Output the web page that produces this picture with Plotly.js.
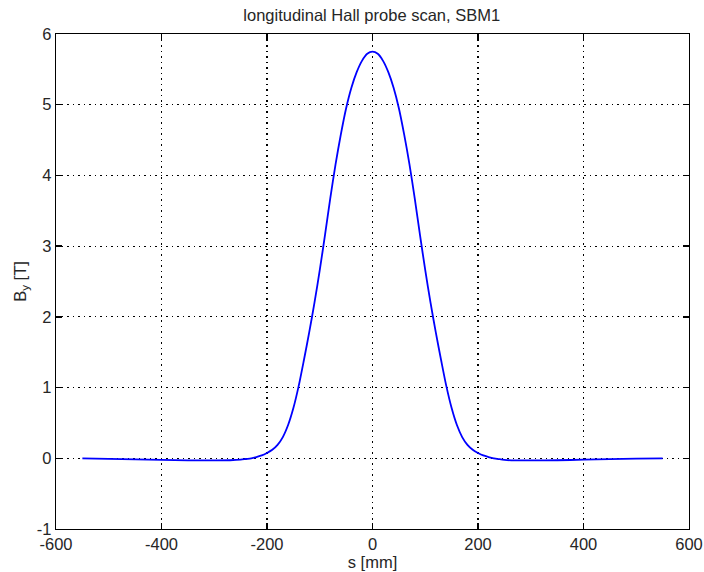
<!DOCTYPE html>
<html>
<head>
<meta charset="utf-8">
<script src="https://cdn.plot.ly/plotly-3.0.1.min.js"></script>
<style>html,body{margin:0;padding:0;background:#fff;}#chart{width:704px;height:572px;}</style>
</head>
<body>
<div id="chart"></div>
<script>
// position along the magnet [mm]
const sPos = [-550,-500,-450,-400,-350,-300,-270,-250,-240,-230,-220,-210,-200,-190,-180,-170,-160,-150,-140,-130,-120,-110,-100,-90,-80,-70,-60,-50,-40,-30,-20,-10,0,
  10,20,30,40,50,60,70,80,90,100,110,120,130,140,150,160,170,180,190,200,210,220,230,240,250,270,300,350,400,450,500,550];
// measured field B_y [T]
const byField = [0.0,-0.008,-0.015,-0.022,-0.03,-0.03,-0.028,-0.02,-0.01,0.0,0.018,0.04,0.075,0.12,0.19,0.30,0.47,0.71,1.02,1.39,1.78,2.20,2.66,3.16,3.68,4.16,4.58,4.95,5.24,5.46,5.62,5.72,5.75,
  5.72,5.62,5.46,5.24,4.95,4.58,4.16,3.68,3.16,2.66,2.20,1.78,1.39,1.02,0.71,0.47,0.30,0.19,0.12,0.075,0.04,0.018,0.0,-0.012,-0.022,-0.03,-0.03,-0.028,-0.02,-0.012,-0.005,0.0];
const xTicks = [-600,-400,-200,0,200,400,600];
const yTicks = [-1,0,1,2,3,4,5,6];

const font = {family: 'Liberation Sans, Arial, sans-serif', size: 16.5, color: '#262626'};

const trace = {
  x: sPos, y: byField, type: 'scatter', mode: 'lines',
  line: {color: '#0000ff', width: 1.8, shape: 'spline', smoothing: 0.8},
  hoverinfo: 'skip'
};

const axisCommon = {
  showline: true, linecolor: '#000', linewidth: 1.3, mirror: 'ticks',
  ticks: 'inside', ticklen: 6, tickwidth: 1.3, tickcolor: '#000',
  showgrid: true, gridcolor: '#000', griddash: '1.5px,4px', gridwidth: 1.2,
  zeroline: false, tickfont: font
};

const layout = {
  width: 704, height: 572,
  margin: {l: 56, r: 15, t: 34, b: 43},
  paper_bgcolor: '#fff', plot_bgcolor: '#fff',
  showlegend: false,
  title: {text: 'longitudinal Hall probe scan, SBM1', font: {family: font.family, size: 16.5, color: '#262626'},
          x: 0.528, xanchor: 'center', y: 0.974, yanchor: 'middle'},
  xaxis: Object.assign({}, axisCommon, {
    range: [-600, 600], tickvals: xTicks, ticktext: xTicks.map(String),
    title: {text: 's [mm]', font: font, standoff: 0}
  }),
  yaxis: Object.assign({}, axisCommon, {
    range: [-1, 6], tickvals: yTicks, ticktext: yTicks.map(String),
    title: {text: 'B<sub>y</sub> [T]', font: font, standoff: 6}
  })
};

Plotly.newPlot('chart', [trace], layout, {displayModeBar: false, staticPlot: true});
</script>
</body>
</html>
